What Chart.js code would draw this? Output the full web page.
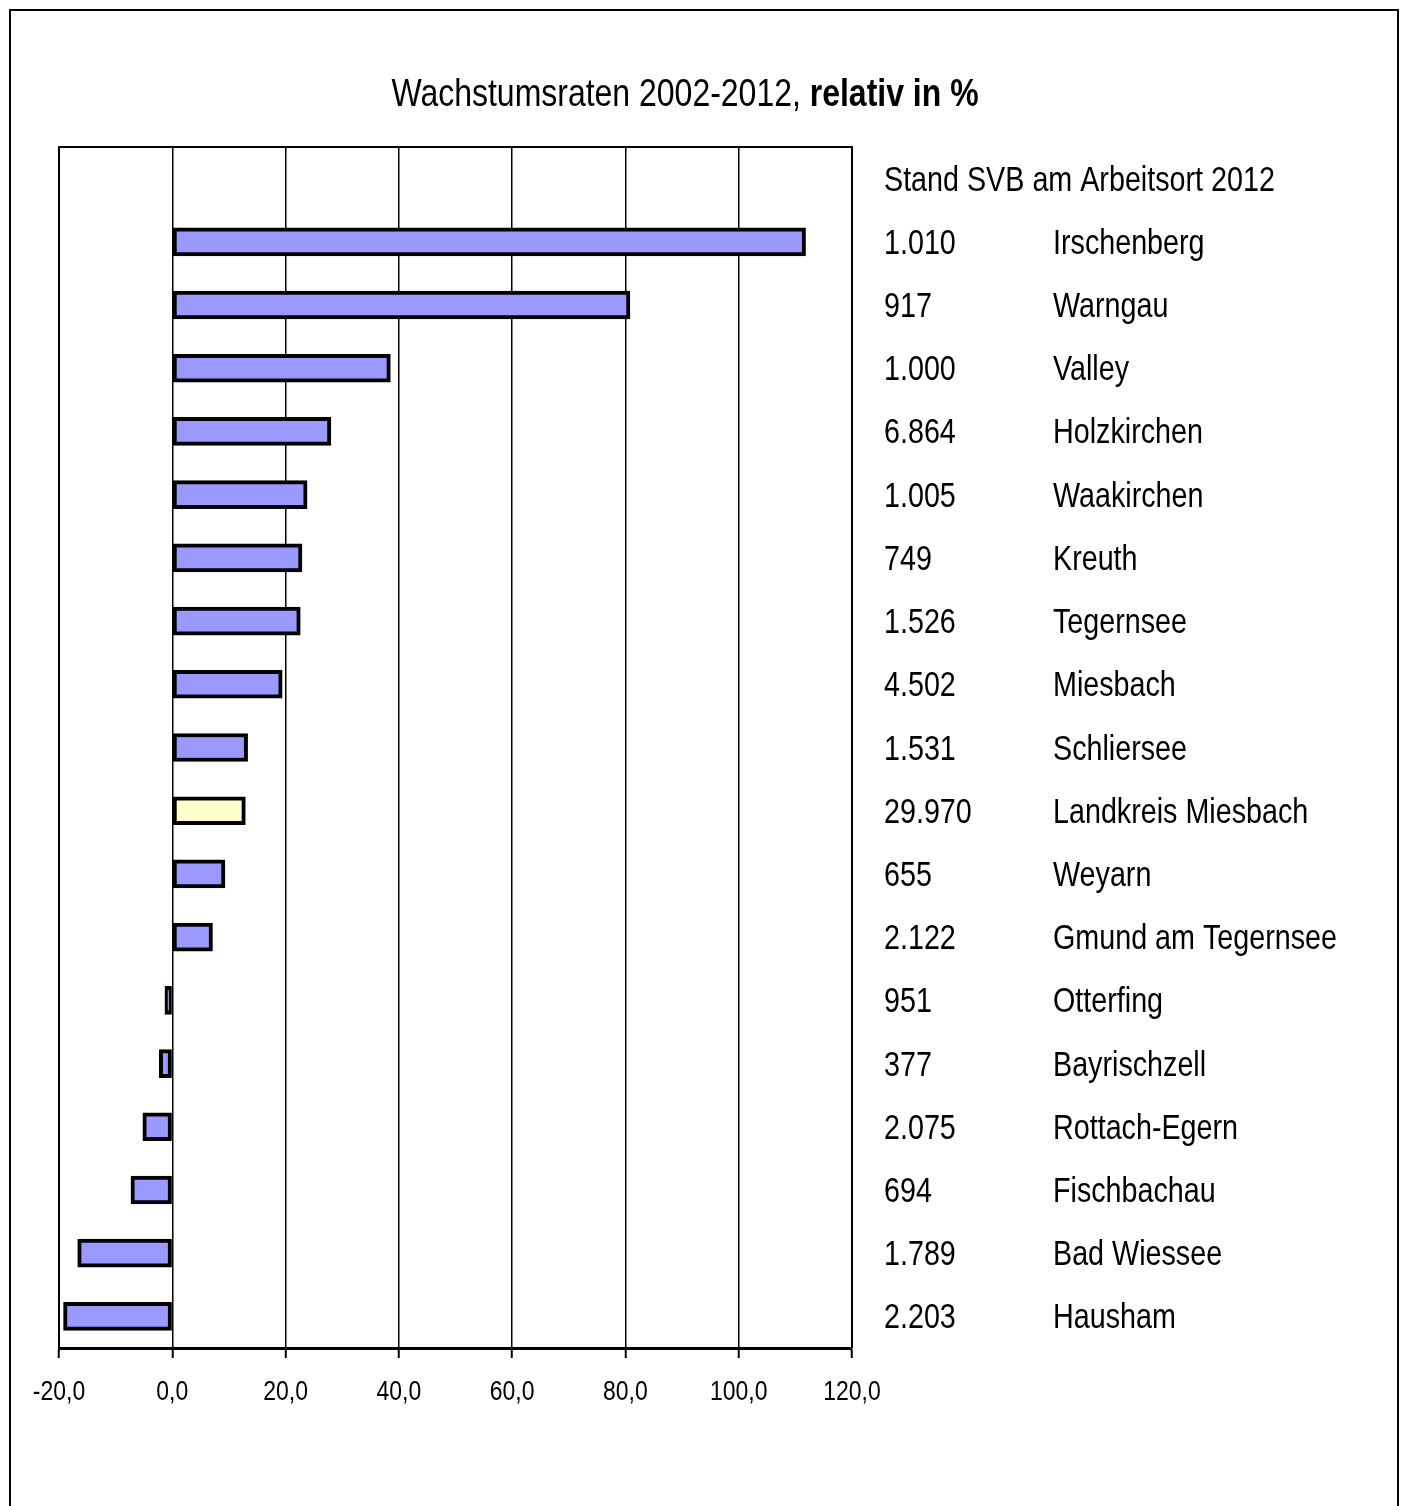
<!DOCTYPE html>
<html>
<head>
<meta charset="utf-8">
<script src="https://cdn.jsdelivr.net/npm/chart.js@4/dist/chart.umd.min.js"></script>
<style>
  html, body { margin: 0; padding: 0; background: #fff; }
  #wrap { width: 1408px; height: 1506px; }
</style>
</head>
<body>
<div id="wrap"><canvas id="growthChart" width="1408" height="1506"></canvas></div>
<script>
// data
const headerLabel = 'Stand SVB am Arbeitsort 2012';
const places = ['Irschenberg', 'Warngau', 'Valley', 'Holzkirchen', 'Waakirchen', 'Kreuth',
  'Tegernsee', 'Miesbach', 'Schliersee', 'Landkreis Miesbach', 'Weyarn', 'Gmund am Tegernsee',
  'Otterfing', 'Bayrischzell', 'Rottach-Egern', 'Fischbachau', 'Bad Wiessee', 'Hausham'];
const svbCounts = ['1.010', '917', '1.000', '6.864', '1.005', '749', '1.526', '4.502', '1.531',
  '29.970', '655', '2.122', '951', '377', '2.075', '694', '1.789', '2.203'];
const growthRates = [111.8, 80.8, 38.5, 28.0, 23.8, 22.9, 22.6, 19.4, 13.3, 12.9, 9.3, 7.1,
  -1.3, -2.3, -5.2, -7.3, -16.7, -19.2];
const xTicks = [-20, 0, 20, 40, 60, 80, 100, 120];
const districtName = 'Landkreis Miesbach';

// no Arial Narrow here -> Liberation Sans squeezed horizontally
const FONT = '"Liberation Sans", Arial, sans-serif';
const NARROW = 0.82;

// first row is kept free for the header text on the right
const rowLabels = [headerLabel, ...places];
const rowValues = [null, ...growthRates];
const rowColors = rowLabels.map(n => n === districtName ? '#FFFFCC' : '#9999FF');

function narrowText(ctx, text, x, y, font, align) {
  ctx.save();
  ctx.translate(x, y);
  ctx.scale(NARROW, 1);
  ctx.font = font;
  ctx.textAlign = align || 'left';
  ctx.textBaseline = 'alphabetic';
  ctx.fillText(text, 0, 0);
  ctx.restore();
}

function narrowWidth(ctx, text, font) {
  ctx.save();
  ctx.font = font;
  const w = ctx.measureText(text).width * NARROW;
  ctx.restore();
  return w;
}

// frame, title, plot outline, tick labels and the text columns on the right
const decorPlugin = {
  id: 'decor',
  beforeDraw(chart) {
    const ctx = chart.ctx;
    ctx.save();
    ctx.fillStyle = '#fff';
    ctx.fillRect(0, 0, chart.width, chart.height);
    ctx.restore();
  },
  afterDraw(chart) {
    const ctx = chart.ctx;
    const area = chart.chartArea;
    const x = chart.scales.x;
    const y = chart.scales.y;
    ctx.save();
    ctx.fillStyle = '#000';

    // outer frame
    ctx.strokeStyle = '#000';
    ctx.lineWidth = 2;
    ctx.strokeRect(10, 10, 1388, 1510);

    // plot outline
    ctx.beginPath();
    ctx.moveTo(area.left, area.bottom);
    ctx.lineTo(area.left, area.top);
    ctx.lineTo(area.right, area.top);
    ctx.lineTo(area.right, area.bottom);
    ctx.stroke();

    // title, normal + bold part
    const t1 = 'Wachstumsraten 2002-2012, ';
    const t2 = 'relativ in %';
    const f1 = '39px ' + FONT;
    const f2 = 'bold 39px ' + FONT;
    const w1 = narrowWidth(ctx, t1, f1);
    const w2 = narrowWidth(ctx, t2, f2);
    const tx = 685 - (w1 + w2) / 2;
    narrowText(ctx, t1, tx, 106, f1);
    narrowText(ctx, t2, tx + w1, 106, f2);

    // x tick labels
    xTicks.forEach(v => {
      narrowText(ctx, v.toFixed(1).replace('.', ','), x.getPixelForValue(v), 1400,
        '28px ' + FONT, 'center');
    });

    // right side columns aligned with the bar rows
    const rf = '35px ' + FONT;
    narrowText(ctx, headerLabel, 884, y.getPixelForValue(0) + 12, rf);
    places.forEach((p, i) => {
      const py = y.getPixelForValue(i + 1) + 12;
      narrowText(ctx, svbCounts[i], 884, py, rf);
      narrowText(ctx, p, 1053, py, rf);
    });
    ctx.restore();
  }
};

new Chart(document.getElementById('growthChart'), {
  type: 'bar',
  data: {
    labels: rowLabels,
    datasets: [{
      data: rowValues,
      backgroundColor: rowColors,
      borderColor: '#000',
      borderWidth: 4,
      borderSkipped: false,
      barThickness: 28
    }]
  },
  options: {
    indexAxis: 'y',
    responsive: false,
    devicePixelRatio: 1,
    animation: false,
    layout: { padding: { left: 59, right: 556, top: 147, bottom: 98 } },
    plugins: {
      legend: { display: false },
      tooltip: { enabled: false },
      title: { display: false }
    },
    scales: {
      x: {
        min: -20,
        max: 120,
        afterBuildTicks(scale) { scale.ticks = xTicks.map(v => ({ value: v })); },
        afterFit(scale) { scale.height = 60; },
        grid: { color: '#000', lineWidth: 1.5, tickLength: 10, tickColor: '#000', tickWidth: 2 },
        border: { color: '#000', width: 3 },
        ticks: { display: false }
      },
      y: {
        display: false,
        offset: true
      }
    }
  },
  plugins: [decorPlugin]
});
</script>
</body>
</html>
